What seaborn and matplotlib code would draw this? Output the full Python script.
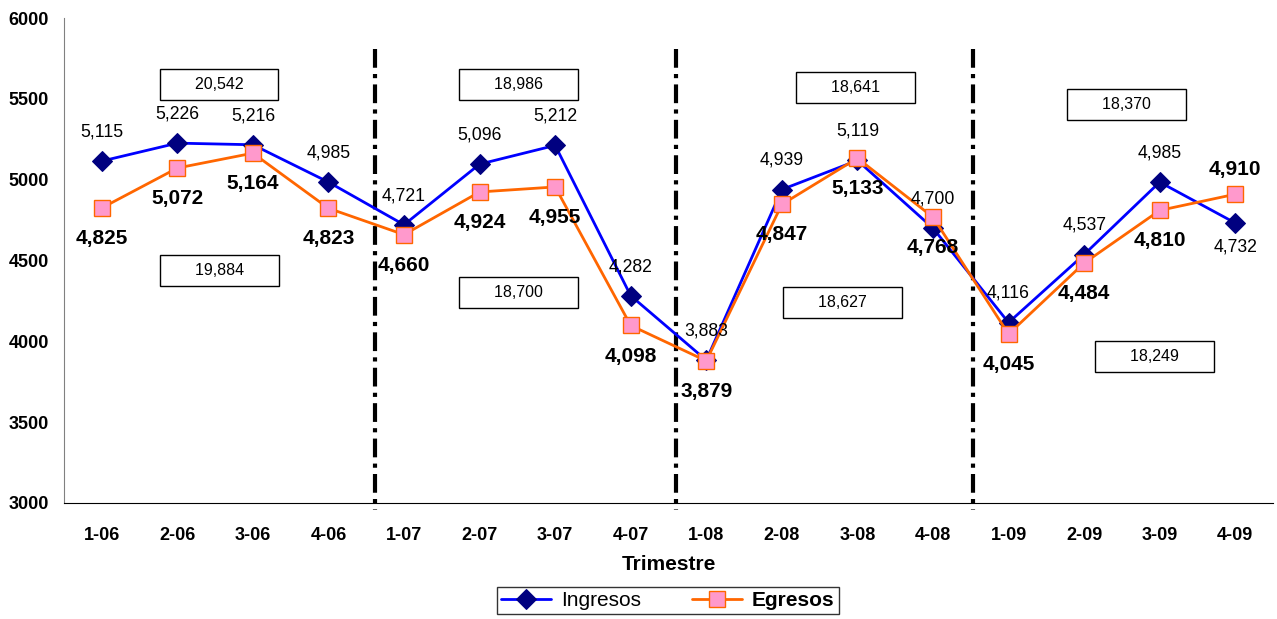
import matplotlib
matplotlib.use("Agg")
import matplotlib.pyplot as plt
import numpy as np
import pandas as pd
import seaborn as sns

# quarter labels and the two series
trimestres = ["1-06", "2-06", "3-06", "4-06", "1-07", "2-07", "3-07", "4-07",
              "1-08", "2-08", "3-08", "4-08", "1-09", "2-09", "3-09", "4-09"]
ingresos = [5115, 5226, 5216, 4985, 4721, 5096, 5212, 4282,
            3883, 4939, 5119, 4700, 4116, 4537, 4985, 4732]
egresos = [4825, 5072, 5164, 4823, 4660, 4924, 4955, 4098,
           3879, 4847, 5133, 4768, 4045, 4484, 4810, 4910]

# yearly totals shown in the boxes
total_ingresos = [20542, 18986, 18641, 18370]
total_egresos = [19884, 18700, 18627, 18249]

sns.set_style("white")
plt.rcParams["font.family"] = ["Liberation Sans", "DejaVu Sans"]
plt.rcParams["text.color"] = "black"
plt.rcParams["axes.labelcolor"] = "black"

df = pd.DataFrame({"idx": np.arange(len(trimestres)),
                   "Ingresos": ingresos, "Egresos": egresos})

fig = plt.figure(figsize=(12.77, 6.19), dpi=100)
ax = fig.add_axes([0.0501, 0.1874, 0.9468, 0.7835])

sns.lineplot(data=df, x="idx", y="Ingresos", ax=ax, color="#0000FF", lw=2,
             marker="D", markersize=10, markerfacecolor="#000080",
             markeredgecolor="#000080", label="Ingresos", zorder=3)
sns.lineplot(data=df, x="idx", y="Egresos", ax=ax, color="#FF6600", lw=2,
             marker="s", markersize=12, markerfacecolor="#FF99CC",
             markeredgecolor="#FF6600", markeredgewidth=1, label="Egresos", zorder=4)

# value labels: ingresos above, egresos below (last point swapped)
n = len(trimestres)
for i in range(n):
    up_i = 21 if i < n - 1 else -17
    up_e = -22 if i < n - 1 else 18
    ax.annotate(f"{ingresos[i]:,}", (i, ingresos[i]), xytext=(0, up_i),
                textcoords="offset points", ha="center", va="center",
                fontsize=12.7, color="black", zorder=5)
    ax.annotate(f"{egresos[i]:,}", (i, egresos[i]), xytext=(0, up_e),
                textcoords="offset points", ha="center", va="center",
                fontsize=15, fontweight="bold", color="black", zorder=5)

# year separators
for xv in [3.62, 7.60, 11.53]:
    ax.plot([xv, xv], [5810, 2955], color="black", lw=3,
            linestyle=(0, (4.5, 1.5, 1, 1.5)), clip_on=False, zorder=2)

# yearly total boxes
top_pos = [(1.55, 5586), (5.52, 5586), (9.98, 5573), (13.56, 5468)]
bot_pos = [(1.56, 4441), (5.51, 4305), (9.80, 4243), (13.93, 3909)]
box = dict(boxstyle="square,pad=0.5", facecolor="white", edgecolor="black", lw=1)
for (x, y), t in zip(top_pos, total_ingresos):
    ax.text(x, y, f"      {t:,}      ", ha="center", va="center", fontsize=11.5, bbox=box)
for (x, y), t in zip(bot_pos, total_egresos):
    ax.text(x, y, f"      {t:,}      ", ha="center", va="center", fontsize=11.5, bbox=box)

ax.set_xlim(-0.5, n - 0.5)
ax.set_ylim(3000, 6000)
ax.set_yticks(range(3000, 6001, 500))
ax.set_xticks(range(n))
ax.set_xticklabels(trimestres)
ax.set_xticks(np.arange(-0.5, n, 1), minor=True)
ax.tick_params(axis="x", which="major", length=0, pad=17, labelsize=13, labelcolor="black")
ax.tick_params(axis="x", which="minor", length=6, width=1, color="black", direction="out")
ax.tick_params(axis="y", length=6, width=1, color="#808080", direction="out",
               labelsize=13, labelcolor="black", pad=5)
for lab in ax.get_xticklabels() + ax.get_yticklabels():
    lab.set_fontweight("bold")

for s in ["top", "right"]:
    ax.spines[s].set_visible(False)
ax.spines["left"].set_color("#808080")
ax.spines["bottom"].set_color("black")

ax.set_xlabel("Trimestre", fontsize=15, fontweight="bold", labelpad=8)
ax.set_ylabel("")

ax.get_legend().remove()
handles, labels = ax.get_legend_handles_labels()
leg = fig.legend(handles, labels, loc="upper center", bbox_to_anchor=(0.523, 0.052),
                 borderaxespad=0, ncol=2, frameon=True, fancybox=False, fontsize=15,
                 handlelength=2.4, columnspacing=2.4, borderpad=0.2, handletextpad=0.5)
leg.get_frame().set_edgecolor("black")
leg.get_frame().set_linewidth(1)
leg.get_texts()[1].set_fontweight("bold")

fig.savefig("out.png", dpi=100)
